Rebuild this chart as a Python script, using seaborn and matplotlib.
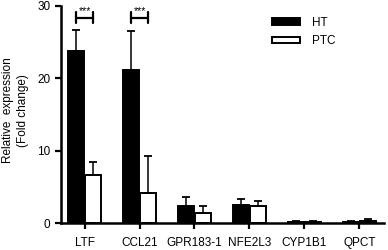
import numpy as np
import pandas as pd
import matplotlib
matplotlib.use("Agg")
import matplotlib.pyplot as plt
import seaborn as sns
from matplotlib.patches import Patch

genes = ["LTF", "CCL21", "GPR183-1", "NFE2L3", "CYP1B1", "QPCT"]
groups = ["HT", "PTC"]
ht_mean = [23.8, 21.2, 2.3, 2.5, 0.15, 0.15]
ht_err = [2.9, 5.4, 1.3, 0.8, 0.1, 0.06]
ptc_mean = [6.7, 4.2, 1.45, 2.35, 0.18, 0.3]
ptc_err = [1.7, 5.1, 0.85, 0.75, 0.1, 0.25]
sig_genes = ["LTF", "CCL21"]

df = pd.DataFrame({
    "gene": genes * 2,
    "group": ["HT"] * len(genes) + ["PTC"] * len(genes),
    "value": ht_mean + ptc_mean,
})

sns.set_style("ticks")
plt.rcParams["font.family"] = ["Liberation Sans", "DejaVu Sans"]
plt.rcParams["text.color"] = "black"
plt.rcParams["axes.labelcolor"] = "black"
plt.rcParams["xtick.color"] = "black"
plt.rcParams["ytick.color"] = "black"

fig = plt.figure(figsize=(3.88, 2.5), dpi=100)
ax = fig.add_axes([0.157, 0.108, 0.833, 0.868])

sns.barplot(data=df, x="gene", y="value", hue="group", hue_order=groups,
            palette={"HT": "black", "PTC": "white"}, width=0.64, gap=0.1,
            edgecolor="black", linewidth=1.4, errorbar=None, legend=False, ax=ax)

# upward-only error bars
errs = {"HT": ht_err, "PTC": ptc_err}
means = {"HT": ht_mean, "PTC": ptc_mean}
for k, g in enumerate(groups):
    cont = ax.containers[k]
    xs = [p.get_x() + p.get_width() / 2 for p in cont]
    ax.errorbar(xs, means[g], yerr=[np.zeros(len(genes)), errs[g]],
                fmt="none", ecolor="black", elinewidth=1.1, capsize=3,
                capthick=1.3, zorder=1)

# significance brackets
for gname in sig_genes:
    i = genes.index(gname)
    x0 = ax.containers[0][i].get_x() + ax.containers[0][i].get_width() / 2
    x1 = ax.containers[1][i].get_x() + ax.containers[1][i].get_width() / 2
    y = 28.4
    ax.plot([x0, x1], [y, y], color="black", lw=1.6)
    ax.plot([x0, x0], [y - 0.8, y + 0.8], color="black", lw=1.6)
    ax.plot([x1, x1], [y - 0.8, y + 0.8], color="black", lw=1.6)
    ax.text((x0 + x1) / 2, y + 0.2, "***", ha="center", va="bottom",
            fontsize=7.5)

ax.set_xlim(-0.43, 5.45)
ax.set_ylim(0, 30)
ax.set_yticks([0, 10, 20, 30])
ax.set_xlabel("")
ax.set_ylabel("Relative  expression\n(Fold change)", fontsize=8.5,
              linespacing=1.3)
ax.yaxis.set_label_coords(-0.10, 0.52)
ax.tick_params(axis="both", labelsize=8.5, width=1.6, length=4)
ax.tick_params(axis="x", pad=6)
for s in ["left", "bottom"]:
    ax.spines[s].set_linewidth(1.8)
    ax.spines[s].set_color("black")
sns.despine(ax=ax)

handles = [Patch(facecolor="black", edgecolor="black", linewidth=1.4),
           Patch(facecolor="white", edgecolor="black", linewidth=1.4)]
ax.legend(handles, groups, loc="upper left", bbox_to_anchor=(0.62, 1.0),
          frameon=False, fontsize=8.5, handlelength=2.4, handleheight=0.5,
          handletextpad=1.0, labelspacing=0.55)

fig.savefig("out.png", dpi=100)
